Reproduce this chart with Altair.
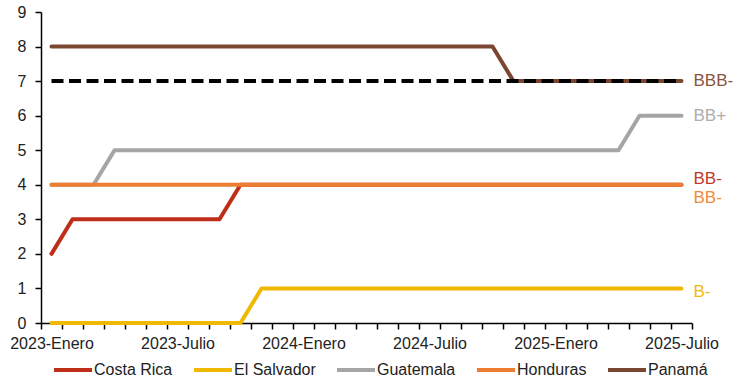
import altair as alt
import pandas as pd

years = ["2023", "2024", "2025"]
months = ["Enero", "Febrero", "Marzo", "Abril", "Mayo", "Junio", "Julio",
          "Agosto", "Septiembre", "Octubre", "Noviembre", "Diciembre"]
periods = [f"{y}-{m}" for y in years for m in months][:31]  # 2023-Enero .. 2025-Julio

countries = ["Costa Rica", "El Salvador", "Guatemala", "Honduras", "Panamá"]
colors = ["#BE2E18", "#F0B800", "#A5A5A5", "#ED7D31", "#7A4631"]

costa_rica = [2, 3, 3, 3, 3, 3, 3, 3, 3] + [4] * 22
el_salvador = [0] * 10 + [1] * 21
guatemala = [4, 4, 4] + [5] * 25 + [6] * 3
honduras = [4] * 31
panama = [8] * 22 + [7] * 9
bbb_minus = [7] * 31
y_ticks = [0, 1, 2, 3, 4, 5, 6, 7, 8, 9]

series = [costa_rica, el_salvador, guatemala, honduras, panama]

rows = []
for ci, (c, vals) in enumerate(zip(countries, series)):
    for p, v in zip(periods, vals):
        rows.append({"periodo": p, "pais": c, "valor": v, "orden": ci})
df = pd.DataFrame(rows)
df_ref = pd.DataFrame({"periodo": periods, "valor": bbb_minus})

label_texts = ["BBB-", "BB+", "BB-", "BB-", "B-"]
label_values = [7, 6, 4, 4, 1]
label_colors = ["#8A5540", "#ADADAD", "#C0392B", "#F08A3C", "#F2B90C"]
label_dy = [0, 0, -6, 13, 4]

FONT = "Liberation Sans"
shown = ["2023-Enero", "2023-Julio", "2024-Enero", "2024-Julio", "2025-Enero", "2025-Julio"]

x_axis = alt.Axis(labelAngle=0, tickBand="extent", labelOverlap=False,
                  labelExpr="indexof(" + str(shown) + ", datum.value) >= 0 ? datum.value : ''",
                  labelFont=FONT, labelFontSize=16, labelColor="#222222",
                  labelPadding=6, tickSize=6, tickColor="black",
                  domainColor="black", domainWidth=1.5, tickWidth=1.5,
                  grid=False)
y_axis = alt.Axis(values=y_ticks, tickCount=10, labelOverlap=False, labelFlush=False,
                  labelFont=FONT, labelFontSize=16,
                  labelColor="#222222", labelPadding=9, tickSize=6,
                  tickColor="black", domainColor="black", domainWidth=1.5,
                  tickWidth=1.5, grid=False)
x_scale = alt.Scale(domain=periods, paddingInner=0, paddingOuter=0)
y_scale = alt.Scale(domain=[0, 9], nice=False)


def xe():
    return alt.X("periodo:N", sort=periods, title=None, scale=x_scale, axis=x_axis)


def ye():
    return alt.Y("valor:Q", title=None, scale=y_scale, axis=y_axis)


lines = alt.Chart(df).mark_line(strokeWidth=4, strokeCap="round", strokeJoin="round").encode(
    x=xe(),
    y=ye(),
    color=alt.Color("pais:N", sort=countries,
                    scale=alt.Scale(domain=countries, range=colors),
                    legend=alt.Legend(title=None, orient="none", direction="horizontal",
                                      legendX=11, legendY=337,
                                      symbolType="stroke", symbolSize=1444,
                                      symbolStrokeWidth=4, labelFont=FONT,
                                      labelFontSize=16, labelColor="#222222",
                                      labelOffset=0, columnPadding=13,
                                      symbolOffset=0, padding=0)),
    order=alt.Order("orden:Q"),
)

ref = alt.Chart(df_ref).mark_line(strokeWidth=4, color="black", strokeDash=[12, 5.5]).encode(
    x=xe(),
    y=ye(),
)

texts = []
for t, v, c, d in zip(label_texts, label_values, label_colors, label_dy):
    tdf = pd.DataFrame({"periodo": [periods[-1]], "valor": [v], "etiqueta": [t]})
    texts.append(alt.Chart(tdf).mark_text(align="left", baseline="middle", dx=12, dy=d,
                                          font=FONT, fontSize=17, color=c).encode(
        x=xe(), y=ye(), text="etiqueta:N"))

chart = alt.layer(lines, ref, *texts).properties(
    width=651, height=311,
    background="white",
    autosize=alt.AutoSizeParams(type="none"),
    padding={"left": 41, "top": 12, "right": 43, "bottom": 57},
).configure_view(stroke=None)

chart.save("out.html", embed_options={"renderer": "svg", "actions": False})
